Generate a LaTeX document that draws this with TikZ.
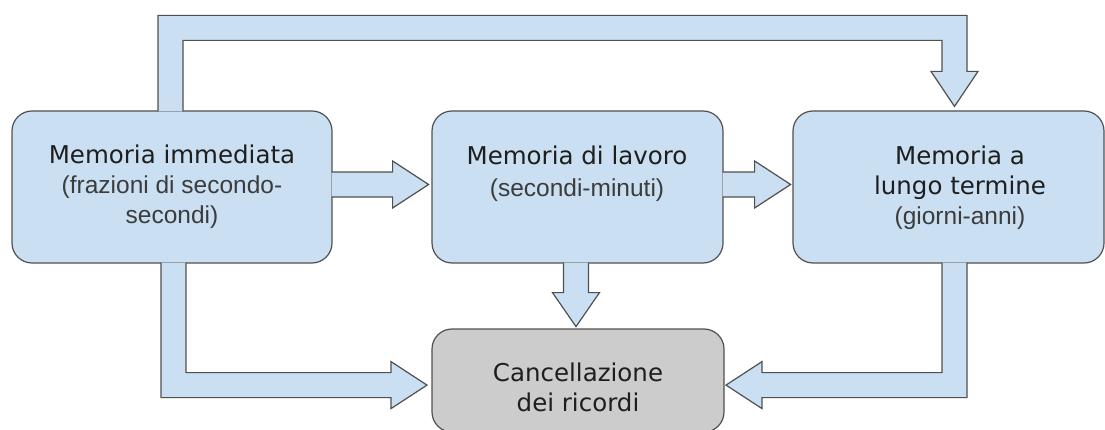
\documentclass[tikz,border=0pt]{standalone}
\usepackage{fontspec}
\setmainfont{Liberation Sans}
\newfontfamily\headfont{DejaVu Sans}
\begin{document}
\begin{tikzpicture}[x=1pt,y=-1pt,
  boxblue/.style={draw=linegray, line width=1.2pt, fill=memblue, rounded corners=20pt, inner sep=0pt},
  boxgray/.style={draw=linegray, line width=1.2pt, fill=erasegray, rounded corners=20pt, inner sep=0pt},
  lbl/.style={align=center, inner sep=0pt, font=\fontsize{24.5}{30}\selectfont, text=subgray},
  barrow/.style={draw=linegray, line width=1.2pt, fill=memblue, line join=miter},
  hd/.style={}]
\definecolor{memblue}{RGB}{202,224,242}
\definecolor{erasegray}{RGB}{204,204,204}
\definecolor{linegray}{RGB}{80,80,80}
\definecolor{subgray}{RGB}{60,60,60}
\definecolor{headcol}{RGB}{30,30,30}
\newcommand{\hdtext}[1]{{\headfont\color{headcol}#1}}
\useasboundingbox (0,0) rectangle (1105,430);
\fill[white] (0,0) rectangle (1105,430);
% boxes
\node[boxblue, minimum width=320pt, minimum height=152pt] (A) at (172,187) {};
\node[boxblue, minimum width=291pt, minimum height=152pt] (B) at (577.5,187) {};
\node[boxblue, minimum width=311pt, minimum height=152pt] (C) at (948.5,187) {};
\node[boxgray, minimum width=292pt, minimum height=103pt] (D) at (578,380.5) {};
% labels
\node[lbl] (tA) at (172,187) {\hdtext{Memoria immediata}\\(frazioni di secondo-\\secondi)};
\node[lbl, font=\fontsize{24.5}{32}\selectfont] (tB) at (577,174) {\hdtext{Memoria di lavoro}\\(secondi-minuti)};
\node[lbl] (tC) at (960,188) {\hdtext{Memoria a}\\\hdtext{lungo termine}\\(giorni-anni)};
\node[lbl] (tD) at (578,387) {\hdtext{Cancellazione}\\\hdtext{dei ricordi}};
% block arrows
% A -> B
\filldraw[barrow] (A.east) ++(-1,-15) -- ++(61,0) -- ++(0,-11) -- ++(36,23.5) -- ++(-36,23.5) -- ++(0,-11) -- ++(-61,0);
% B -> C
\filldraw[barrow] (B.east) ++(-1,-15) -- ++(32,0) -- ++(0,-11) -- ++(36,23.5) -- ++(-36,23.5) -- ++(0,-11) -- ++(-32,0);
% B -> D
\filldraw[barrow] (B.south) ++(-14,-1) -- ++(0,30) -- ++(-11,0) -- ++(23.5,34) -- ++(23.5,-34) -- ++(-11,0) -- ++(0,-30);
% A -> D
\filldraw[barrow] (A.south) ++(-11,-1) -- ++(0,135) -- ++(230,0) -- ++(0,11) -- ++(36,-23.5) -- ++(-36,-23.5) -- ++(0,11) -- ++(-205,0) -- ++(0,-110);
% C -> D
\filldraw[barrow] (C.south) ++(18.5,-1) -- ++(0,135) -- ++(-205,0) -- ++(0,11) -- ++(-36,-23.5) -- ++(36,-23.5) -- ++(0,11) -- ++(180,0) -- ++(0,-110);
% A -> C (top)
\filldraw[barrow] (A.north) ++(-14,1) -- ++(0,-96) -- ++(809,0) -- ++(0,56) -- ++(11,0) -- ++(-23.5,35) -- ++(-23.5,-35) -- ++(11,0) -- ++(0,-31) -- ++(-759,0) -- ++(0,71);
\end{tikzpicture}
\end{document}
